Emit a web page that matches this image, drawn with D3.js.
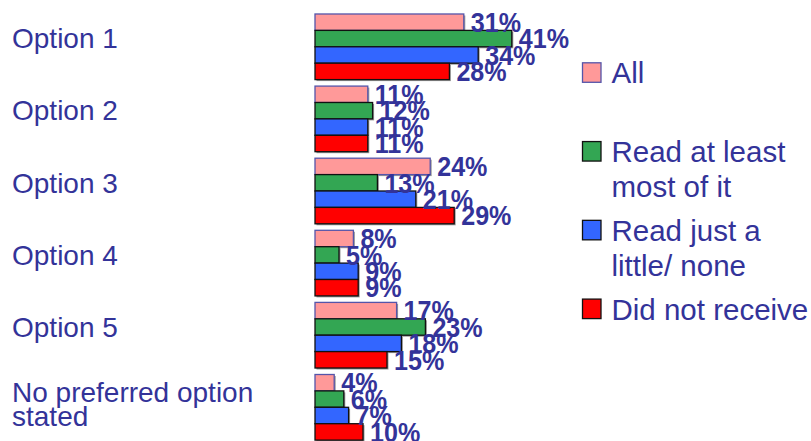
<!DOCTYPE html>
<html>
<head>
<meta charset="utf-8">
<script src="https://cdn.jsdelivr.net/npm/d3@7"></script>
<style>
  html, body { margin: 0; padding: 0; background: #fff; }
  svg { display: block; }
  text { font-family: "Liberation Sans", Arial, sans-serif; fill: #333399; }
</style>
</head>
<body>
<svg id="chart" width="811" height="441"></svg>
<script>
// ---- data ----
const categories = ["Option 1", "Option 2", "Option 3", "Option 4", "Option 5", "No preferred option stated"];
const categoryLines = [["Option 1"], ["Option 2"], ["Option 3"], ["Option 4"], ["Option 5"], ["No preferred option", "stated"]];
const seriesNames = ["All", "Read at least most of it", "Read just a little/ none", "Did not receive"];
const legendLines = [["All"], ["Read at least", "most of it"], ["Read just a", "little/ none"], ["Did not receive"]];
const seriesAll = [31, 11, 24, 8, 17, 4];
const seriesReadMost = [41, 12, 13, 5, 23, 6];
const seriesReadLittle = [34, 11, 21, 9, 18, 7];
const seriesNotReceived = [28, 11, 29, 9, 15, 10];
const seriesValues = [seriesAll, seriesReadMost, seriesReadLittle, seriesNotReceived];

// ---- styles ----
const colors = ["#FF9999", "#33A653", "#3366FF", "#FF0000"];
const strokes = ["#5555aa", "#111111", "#111111", "#111111"];

const svg = d3.select("#chart");

const x = d3.scaleLinear().domain([0, 100]).range([315, 795]);
const y = d3.scaleBand().domain(categories).range([7.5, 446.6]).paddingInner(0.09).paddingOuter(0.09);
const ySub = d3.scaleBand().domain(seriesNames).range([0, y.bandwidth()]).padding(0);

const rows = categories.map((c, i) => ({
  cat: c,
  lines: categoryLines[i],
  vals: seriesNames.map((s, j) => ({ series: s, j, value: seriesValues[j][i] }))
}));

const groups = svg.selectAll("g.group").data(rows).join("g")
  .attr("class", "group")
  .attr("transform", d => `translate(0,${y(d.cat)})`);

// shadows
groups.selectAll("rect.shadow").data(d => d.vals).join("rect")
  .attr("class", "shadow")
  .attr("x", x(0) + 1.5)
  .attr("y", d => ySub(d.series) + 1.5)
  .attr("width", d => x(d.value) - x(0))
  .attr("height", ySub.bandwidth())
  .attr("fill", "#999");

groups.selectAll("rect.bar").data(d => d.vals).join("rect")
  .attr("class", "bar")
  .attr("x", x(0))
  .attr("y", d => ySub(d.series))
  .attr("width", d => x(d.value) - x(0))
  .attr("height", ySub.bandwidth())
  .attr("fill", d => colors[d.j])
  .attr("stroke", d => strokes[d.j])
  .attr("stroke-width", 1.3);

groups.selectAll("text.val").data(d => d.vals).join("text")
  .attr("class", "val")
  .attr("transform", d => `translate(${x(d.value) + 7},${ySub(d.series) + ySub.bandwidth() / 2}) scale(0.93,1)`)
  .attr("dy", "0.36em")
  .attr("font-size", 27)
  .attr("font-weight", "bold")
  .text(d => d.value + "%");

// category labels
groups.each(function(d) {
  const g = d3.select(this);
  const n = d.lines.length;
  const lh = 24.3;
  const base = n > 1 ? y.bandwidth() / 2 - 5.6 : y.bandwidth() / 2 + 1.6;
  d.lines.forEach((ln, k) => {
    g.append("text")
      .attr("x", 12)
      .attr("y", base + k * lh)
      .attr("font-size", 28)
      .text(ln);
  });
});

// legend
const legendY = d3.scalePoint().domain(seriesNames).range([83.3, 319.6]);
const lg = svg.selectAll("g.legend").data(seriesNames).join("g")
  .attr("class", "legend")
  .attr("transform", d => `translate(0,${legendY(d)})`);
lg.append("rect")
  .attr("x", 582.5).attr("y", -20.5)
  .attr("width", 18.5).attr("height", 19.5)
  .attr("fill", (d, i) => colors[i])
  .attr("stroke", (d, i) => strokes[i])
  .attr("stroke-width", 1.3);
lg.each(function(d, i) {
  const g = d3.select(this);
  legendLines[i].forEach((ln, k) => {
    g.append("text")
      .attr("x", 611.5)
      .attr("y", k * 35)
      .attr("font-size", 29.5)
      .text(ln);
  });
});
</script>
</body>
</html>
